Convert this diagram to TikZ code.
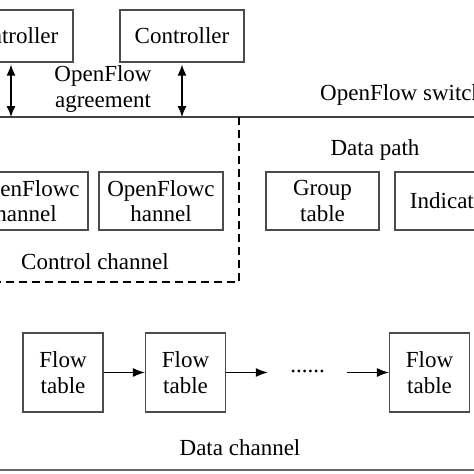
\documentclass[tikz,border=0pt]{standalone}
\usepackage{fontspec}
\setmainfont{Liberation Serif}
\usetikzlibrary{arrows.meta}
\tikzset{
  box/.style={draw=black!70, line width=1.2pt, inner sep=0pt, align=center},
  link/.style={line width=1.3pt, -{Latex[length=12pt,width=9pt]}},
  bilink/.style={line width=1.3pt, {Latex[length=11pt,width=9pt]}-{Latex[length=11pt,width=9pt]}}
}
\begin{document}
\begin{tikzpicture}[x=1pt, y=-1pt, font=\fontsize{23}{25.5}\selectfont]
      \useasboundingbox (0,0) rectangle (474,474);
      \clip (0,0) rectangle (474,474);
      % controllers
      \node[box, minimum width=124pt, minimum height=52pt] (ctrlA) at (11,36) {Controller};
      \node[box, minimum width=124pt, minimum height=52pt] (ctrlB) at (182,36) {Controller};
      \node (agree) at (103,89) [align=center, inner sep=0pt] {OpenFlow\\agreement};
      % switch border
      \draw[black!75, line width=1.2pt] (0,117) -- (474,117);
      \coordinate (swA) at (11,117);
      \coordinate (swB) at (182,117);
      \draw[bilink, shorten <=2pt] (ctrlA.south) -- (swA);
      \draw[bilink, shorten <=2pt] (ctrlB.south) -- (swB);
      \node (switch) at (320,95) [anchor=west, inner sep=0pt] {OpenFlow switch};
      % control channel
      \draw[line width=1.3pt, dash pattern=on 8pt off 5pt] (239,117) -- (239,282) -- (0,282);
      \node[box, minimum width=124pt, minimum height=58pt] (ofA) at (26,201) {OpenFlowc\\hannel};
      \node[box, minimum width=124pt, minimum height=58pt] (ofB) at (161,201) {OpenFlowc\\hannel};
      \node (ctrlch) at (95,262) [inner sep=0pt] {Control channel};
      % data path
      \node (dpath) at (375,150) [inner sep=0pt] {Data path};
      \node[box, minimum width=113pt, minimum height=58pt] (group) at (322.5,201) {Group\\table};
      \node[box, minimum width=113pt, minimum height=58pt] (indic) at (451.5,201) {Indicator};
      % data channel
      \node[box, minimum width=80pt, minimum height=79pt] (ftA) at (63,372.5) {Flow\\table};
      \node[box, minimum width=80pt, minimum height=79pt] (ftB) at (185.5,372.5) {Flow\\table};
      \node[box, minimum width=80pt, minimum height=79pt] (ftC) at (429.5,372.5) {Flow\\table};
      \node (dots) at (307.5,372.5) [minimum width=79pt, inner sep=0pt, text height=0pt, text depth=0pt] {......};
      \draw[link] (ftA) -- (ftB);
      \draw[link] (ftB) -- (dots);
      \draw[link] (dots) -- (ftC);
      \node (datach) at (240,448) [inner sep=0pt] {Data channel};
      \draw[black!60, line width=1.2pt] (0,470) -- (474,470);
\end{tikzpicture}
\end{document}
